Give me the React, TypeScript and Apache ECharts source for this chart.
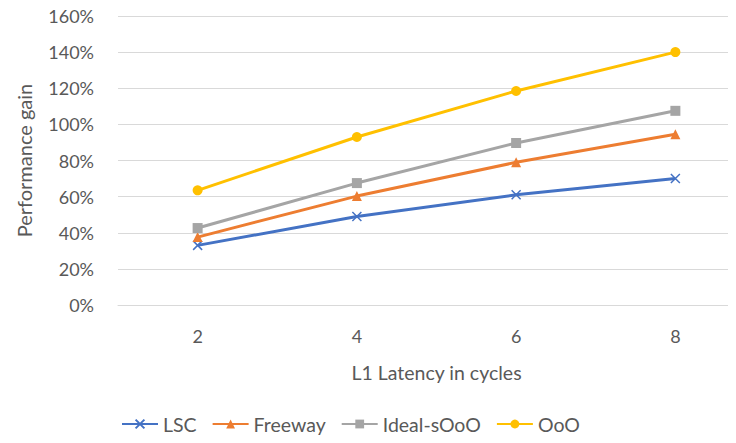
import React, { useEffect, useRef } from "react";
import * as echarts from "echarts";

const categories = ["2", "4", "6", "8"];
const lsc = [33, 49, 61, 70];
const freeway = [37.6, 60.3, 79, 94.5];
const idealSOoO = [42.6, 67.5, 89.7, 107.5];
const ooo = [63.5, 93, 118.5, 140];

const FONT = "Lato";

export default function App() {
  const ref = useRef<HTMLDivElement>(null);
  useEffect(() => {
    const chart = echarts.init(ref.current!, undefined, { renderer: "svg" });
    const mk = (name: string, data: number[], color: string, symbol: string, size: number, extra: any = {}) => ({
      name,
      type: "line",
      data,
      symbol,
      symbolSize: size,
      lineStyle: { color, width: 3 },
      itemStyle: { color, ...extra },
    });
    chart.setOption({
      animation: false,
      textStyle: { fontFamily: FONT },
      grid: { left: 118, top: 16, right: 5, bottom: 138 },
      xAxis: {
        type: "category",
        data: categories,
        boundaryGap: true,
        axisLine: { show: true, lineStyle: { color: "#d9d9d9", width: 1 } },
        axisTick: { show: false },
        axisLabel: { color: "#595959", fontSize: 18, margin: 22, fontFamily: FONT },
        name: "L1 Latency in cycles",
        nameLocation: "middle",
        nameGap: 57,
        nameTextStyle: { color: "#595959", fontSize: 19.5, fontFamily: FONT },
      },
      yAxis: {
        type: "value",
        min: 0,
        max: 160,
        interval: 20,
        axisLine: { show: false },
        axisTick: { show: false },
        splitLine: { lineStyle: { color: "#d9d9d9", width: 1 } },
        axisLabel: { color: "#595959", fontSize: 18, margin: 24, formatter: "{value}%", fontFamily: FONT },
        name: "Performance gain",
        nameLocation: "middle",
        nameGap: 84,
        nameTextStyle: { color: "#595959", fontSize: 20, fontFamily: FONT },
      },
      legend: {
        top: 409,
        left: 116,
        itemWidth: 36,
        itemHeight: 11,
        itemGap: 15,
        textStyle: { color: "#595959", fontSize: 19.5, fontFamily: FONT },
        data: ["LSC", "Freeway", "Ideal-sOoO", "OoO"],
      },
      series: [
        mk("LSC", lsc, "#4472C4", "path://M0,0L10,10M10,0L0,10", 9, { borderColor: "#4472C4", borderWidth: 1.5 }),
        mk("Freeway", freeway, "#ED7D31", "triangle", 10),
        mk("Ideal-sOoO", idealSOoO, "#A5A5A5", "rect", 10),
        mk("OoO", ooo, "#FFC000", "circle", 10),
      ],
    });
    return () => chart.dispose();
  }, []);
  return (
    <div style={{ width: 736, height: 443, margin: -8, overflow: "hidden" }}>
      <div ref={ref} style={{ width: 760, height: 443 }} />
    </div>
  );
}
